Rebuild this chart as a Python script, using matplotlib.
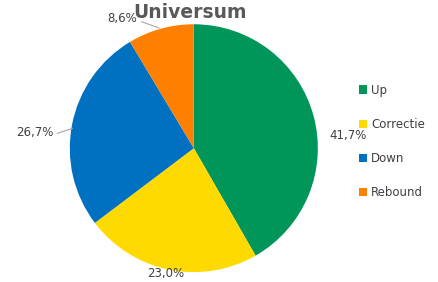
import matplotlib
matplotlib.use("Agg")
import matplotlib.pyplot as plt
from matplotlib.patches import Patch

# data
categories = ["Up", "Correctie", "Down", "Rebound"]
shares = [41.7, 23.0, 26.7, 8.6]
pct_labels = ["41,7%", "23,0%", "26,7%", "8,6%"]
colors = ["#00965A", "#FFDA00", "#0070C0", "#FF7F00"]

fig = plt.figure(figsize=(4.39, 2.82), dpi=100)
ax = fig.add_axes([0.159, 0.035, 0.565, 0.879])

wedges, _ = ax.pie(shares, colors=colors, startangle=90, counterclock=False,
                   wedgeprops=dict(linewidth=0))
ax.set_xlim(-1, 1)
ax.set_ylim(-1, 1)
ax.set_aspect("auto")
ax.axis("off")

# label positions (data coords, pie radius = 1)
label_pos = [(1.24, 0.10), (-0.23, -1.01), (-1.28, 0.13), (-0.58, 1.05)]
leaders = [None, None, ((-1.10, 0.12), (-0.98, 0.16)), ((-0.42, 1.02), (-0.28, 0.97))]
for txt, pos, lead in zip(pct_labels, label_pos, leaders):
    ax.text(pos[0], pos[1], txt, ha="center", va="center", fontsize=8.5,
            color="#404040", clip_on=False)
    if lead is not None:
        ax.plot([lead[0][0], lead[1][0]], [lead[0][1], lead[1][1]],
                color="#A6A6A6", linewidth=0.8, clip_on=False)

fig.text(0.433, 0.955, "Universum", ha="center", va="center", fontsize=13.5,
         fontweight="bold", color="#595959")

handles = [Patch(facecolor=c, edgecolor="none") for c in colors]
fig.legend(handles, categories, loc="upper left", bbox_to_anchor=(0.817, 0.703),
           frameon=False, fontsize=8.5, labelcolor="#404040", handlelength=0.7,
           handleheight=0.7, handletextpad=0.35, labelspacing=1.78,
           borderpad=0, borderaxespad=0)

fig.savefig("out.png", dpi=100)
